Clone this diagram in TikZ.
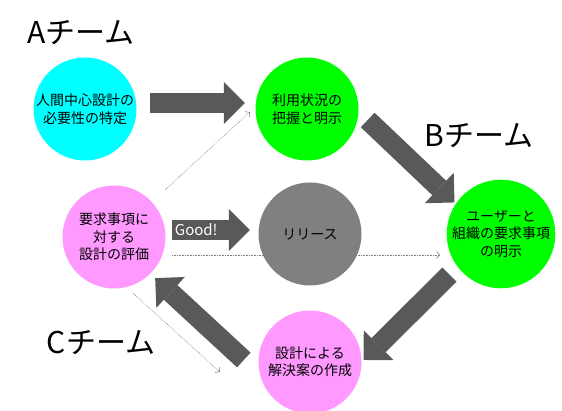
\documentclass[tikz,border=0pt]{standalone}
\usepackage{fontspec}
\setmainfont{Noto Sans CJK JP}
\usetikzlibrary{arrows.meta,backgrounds}
\definecolor{hcdcyan}{RGB}{0,255,255}
\definecolor{hcdgreen}{RGB}{0,255,0}
\definecolor{hcdpink}{RGB}{255,153,255}
\definecolor{hcdgray}{RGB}{128,128,128}
\definecolor{hcdarrow}{RGB}{89,89,89}
\definecolor{hcddots}{RGB}{125,125,125}
\tikzset{
  hcdstep/.style={
    circle, inner sep=0pt, minimum size=103pt, align=center,
    font=\fontsize{14pt}{17.5pt}\selectfont
  },
  hcdteam/.style={font=\fontsize{30pt}{36pt}\selectfont},
  hcdbig/.style={
    draw=hcdarrow, line width=20pt,
    -{Triangle[length=21pt,width=42pt,line width=0pt]}
  },
  hcdfeedback/.style={
    draw=hcddots, densely dotted, line width=0.6pt,
    -{Straight Barb[length=3pt,width=7pt]}
  },
  hcdgood/.style={font=\fontsize{15pt}{16pt}\selectfont,text=white,inner sep=0pt}
}

\begin{document}
\begin{tikzpicture}[x=1pt,y=1pt]
  \useasboundingbox (0,0) rectangle (562,411);

  % the steps of the cycle
  \node[hcdstep,fill=hcdcyan] (need) at (85,302) {人間中心設計の\\必要性の特定};
  \node[hcdstep,fill=hcdgreen] (context) at (307,302) {利用状況の\\把握と明示};
  \node[hcdstep,fill=hcdgreen] (reqs) at (501,177) {ユーザーと\\組織の要求事項\\の明示};
  \node[hcdstep,fill=hcdpink] (design) at (310,49) {設計による\\解決案の作成};
  \node[hcdstep,fill=hcdpink] (eval) at (114,174) {要求事項に\\対する\\設計の評価};
  \node[hcdstep,fill=hcdgray] (release) at (310,177) {リリース};

  % teams
  \node[hcdteam] (teamA) at (81,378) {Aチーム};
  \node[hcdteam] (teamB) at (479,275) {Bチーム};
  \node[hcdteam] (teamC) at (101,68) {Cチーム};

  % main flow
  \draw[hcdbig,shorten <=13.5pt,shorten >=10.5pt] ([yshift=6pt]need.east) -- ([yshift=6pt]context.west);
  \draw[hcdbig] ([shift={(9pt,-11pt)}]context.east) -- ([shift={(-8pt,-7pt)}]reqs.north west);
  \draw[hcdbig] ([shift={(-13pt,-2pt)}]reqs.south west) -- ([shift={(2pt,2pt)}]design.east);
  \draw[hcdbig] ([shift={(-14.5pt,2pt)}]design.west) -- ([shift={(4.6pt,-4.6pt)}]eval.south east);
  \draw[hcdbig] ([shift={(6.5pt,7pt)}]eval.east) -- ([shift={(-8.5pt,4pt)}]release.west)
    node[hcdgood,pos=0.31] {Good!};

  % feedback from the evaluation
  \begin{pgfonlayer}{background}
    \draw[hcdfeedback] ([shift={(14.6pt,10.6pt)}]eval.north east) -- ([shift={(-5.5pt,-3pt)}]context.west);
    \draw[hcdfeedback] ([shift={(6.5pt,-18pt)}]eval.east) -- ([shift={(-6.5pt,-21pt)}]reqs.west);
    \draw[hcdfeedback] ([shift={(19pt,-4.5pt)}]eval.south) -- ([shift={(-38.5pt,-10pt)}]design.west);
  \end{pgfonlayer}
\end{tikzpicture}
\end{document}
